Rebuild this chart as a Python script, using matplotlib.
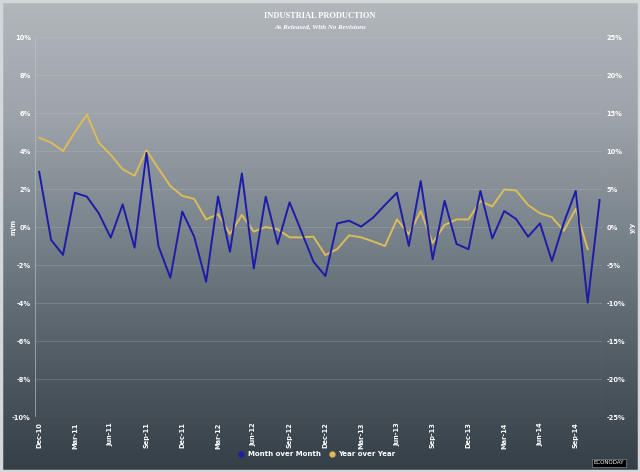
import numpy as np
import matplotlib
matplotlib.use("Agg")
import matplotlib.pyplot as plt
from matplotlib.colors import LinearSegmentedColormap
from matplotlib.patches import Rectangle

# Month over Month (%), Dec-10 .. Nov-14
mom = [2.9, -0.68, -1.47, 1.8, 1.6, 0.72, -0.56, 1.19, -1.09, 3.9,
       -1.0, -2.67, 0.81, -0.51, -2.88, 1.6, -1.3, 2.82, -2.18, 1.6,
       -0.89, 1.3, -0.25, -1.82, -2.58, 0.19, 0.33, 0.02, 0.49, 1.16,
       1.8, -1.0, 2.42, -1.7, 1.38, -0.89, -1.17, 1.9, -0.6, 0.84,
       0.42, -0.51, 0.19, -1.79, 0.23, 1.9, -3.98, 1.42]

# Year over Year (%), Dec-10 .. Oct-14
yoy = [11.75, 11.1, 10.0, 12.5, 14.8, 11.1, 9.5, 7.6, 6.75, 10.1,
       7.7, 5.4, 4.1, 3.7, 1.0, 1.7, -0.92, 1.58, -0.6, 0.0,
       -0.3, -1.36, -1.36, -1.27, -3.7, -2.9, -1.1, -1.36, -1.9, -2.5,
       1.0, -0.92, 2.1, -2.1, 0.26, 1.0, 1.0, 3.4, 2.7, 4.95,
       4.8, 2.9, 1.8, 1.3, -0.5, 2.37, -2.9]

tick_labels = ["Dec-10", "Mar-11", "Jun-11", "Sep-11", "Dec-11", "Mar-12",
               "Jun-12", "Sep-12", "Dec-12", "Mar-13", "Jun-13", "Sep-13",
               "Dec-13", "Mar-14", "Jun-14", "Sep-14"]

left_ticks = [10, 8, 6, 4, 2, 0, -2, -4, -6, -8, -10]
right_ticks = [25, 20, 15, 10, 5, 0, -5, -10, -15, -20, -25]

blue = "#1c1ca8"
gold = "#dcbc58"
txt = "white"

fig = plt.figure(figsize=(6.4, 4.72), dpi=100)

# fondo degradado
bg = fig.add_axes([0, 0, 1, 1], zorder=-10)
cmap = LinearSegmentedColormap.from_list(
    "bg", ["#b2b7bc", "#9ca3a9", "#78828a", "#545e66", "#343e46"])
grad = np.linspace(0, 1, 256).reshape(-1, 1)
bg.imshow(grad, aspect="auto", cmap=cmap, extent=[0, 1, 0, 1])
bg.axis("off")
# marco claro alrededor
fig.patches.append(Rectangle((0.002, 0.003), 0.996, 0.994, transform=fig.transFigure,
                             fill=False, ec="#d4d7da", lw=2.5, zorder=-5))

ax = fig.add_axes([0.0547, 0.1165, 0.8859, 0.8051])
ax.patch.set_alpha(0)
ax2 = ax.twinx()

x_mom = np.arange(len(mom))
x_yoy = np.arange(len(yoy))
ax.plot(x_mom, mom, color=blue, lw=1.4, zorder=3)
ax2.plot(x_yoy, yoy, color=gold, lw=1.4, zorder=2)

ax.set_xlim(-0.35, 47.2)
ax.set_ylim(-10, 10)
ax2.set_ylim(-25, 25)
ax.set_zorder(ax2.get_zorder() + 1)
ax.patch.set_visible(False)

ax.set_yticks(left_ticks)
ax.set_yticklabels([f"{t}%" for t in left_ticks])
ax2.set_yticks(right_ticks)
ax2.set_yticklabels([f"{t}%" for t in right_ticks])
ax.set_xticks(np.arange(0, 48, 3))
ax.set_xticklabels(tick_labels, rotation=90)

ax.yaxis.grid(True, color="#c8ccd0", alpha=0.25, lw=0.6)
for a in (ax, ax2):
    a.tick_params(colors=txt, labelsize=4.8, length=0, pad=3)
    for lab in a.get_xticklabels() + a.get_yticklabels():
        lab.set_fontweight("bold")
    for s in a.spines.values():
        s.set_visible(False)
ax.tick_params(axis="x", pad=4)
ax.axvline(-0.35, color="#c0c5ca", lw=0.8, alpha=0.6)
ax.axvline(47.2, color="#c0c5ca", lw=0.8, alpha=0.6)
ax.axhline(-10, color="#c0c5ca", lw=0.8, alpha=0.5)

ax.set_ylabel("m/m", color=txt, fontsize=4.8, fontweight="bold")
ax.yaxis.set_label_coords(-0.032, 0.5)
ax2.set_ylabel("y/y", color=txt, fontsize=4.8, fontweight="bold")
ax2.yaxis.set_label_coords(1.05, 0.5)

fig.text(0.5, 0.966, "INDUSTRIAL PRODUCTION", ha="center", va="center",
         color=txt, fontsize=6, fontweight="bold", family="Liberation Serif")
fig.text(0.5, 0.943, "As Released, With No Revisions", ha="center",
         va="center", color=txt, fontsize=5, fontweight="bold", style="italic",
         family="Liberation Serif")

# leyenda
h1, = ax.plot([], [], ls="none", marker="o", ms=3.5, mfc=blue, mec=blue)
h2, = ax.plot([], [], ls="none", marker="o", ms=3.5, mfc=gold, mec=gold)
leg = fig.legend([h1, h2], ["Month over Month", "Year over Year"], loc="center",
                 bbox_to_anchor=(0.495, 0.038), ncol=2, frameon=False,
                 fontsize=5, labelcolor=txt, handlelength=1.0,
                 handletextpad=0.4, columnspacing=1.2)
for t in leg.get_texts():
    t.set_fontweight("bold")

fig.text(0.975, 0.014, "ECONODAY", ha="right", va="bottom", color="white",
         fontsize=4, family="DejaVu Sans",
         bbox=dict(boxstyle="square,pad=0.3", fc="black", ec="#888888", lw=0.5))

fig.savefig("out.png", dpi=100)
